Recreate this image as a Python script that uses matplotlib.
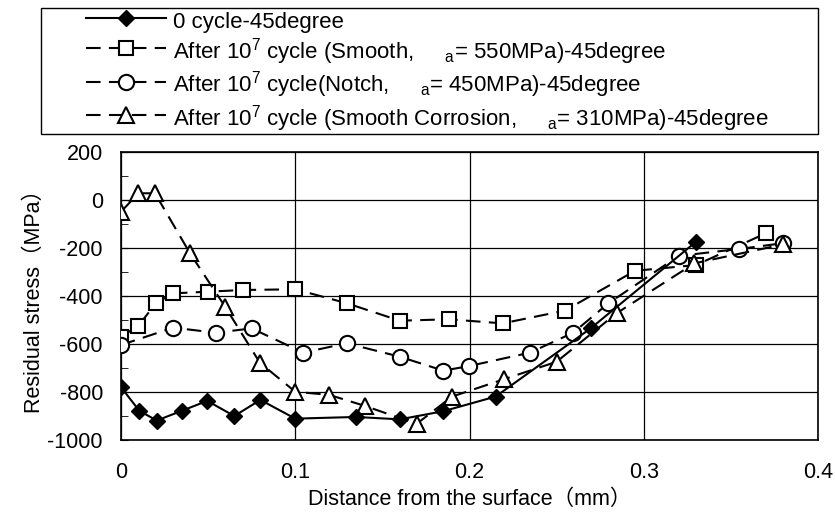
import matplotlib.pyplot as plt
from matplotlib.patches import Rectangle
from matplotlib.ticker import MultipleLocator

plt.rcParams['font.family'] = ['Liberation Sans', 'Noto Sans CJK JP', 'DejaVu Sans']
plt.rcParams['mathtext.fontset'] = 'custom'
plt.rcParams['mathtext.rm'] = 'Liberation Sans'
plt.rcParams['mathtext.it'] = 'Liberation Sans'
plt.rcParams['axes.unicode_minus'] = False

# 0 cycle
x0 = [0, 0.0105, 0.0205, 0.035, 0.0495, 0.065, 0.08, 0.1, 0.135, 0.16, 0.185, 0.215, 0.2695, 0.33]
y0 = [-780, -878, -919, -878, -837, -900, -833, -911, -904, -914, -880, -819, -535, -174]

# smooth
xs = [0, 0.01, 0.02, 0.03, 0.05, 0.07, 0.1, 0.1295, 0.16, 0.188, 0.219, 0.2547, 0.295, 0.33, 0.37]
ys = [-570, -524, -430, -389, -382, -375, -372, -430, -503, -497, -514, -461, -295, -271, -139]

# notch
xc = [0, 0.03, 0.0545, 0.075, 0.1046, 0.1295, 0.16, 0.185, 0.1997, 0.2347, 0.2595, 0.2796, 0.32, 0.3548, 0.38]
yc = [-604, -532, -553, -535, -636, -597, -653, -711, -692, -636, -553, -431, -233, -204, -180]

# smooth corrosion
xt = [0, 0.01, 0.0195, 0.0396, 0.0597, 0.0797, 0.1, 0.1195, 0.14, 0.1696, 0.19, 0.2197, 0.25, 0.2844, 0.329, 0.38]
yt = [-49, 28, 28, -222, -444, -678, -799, -812, -858, -933, -819, -747, -674, -472, -264, -185]

labels = [
    "0 cycle-45degree",
    r"After 10$^7$ cycle (Smooth,     $_{a}$= 550MPa)-45degree",
    r"After 10$^7$ cycle(Notch,     $_{a}$= 450MPa)-45degree",
    r"After 10$^7$ cycle (Smooth Corrosion,     $_{a}$= 310MPa)-45degree",
]

W, H = 835, 519
fig = plt.figure(figsize=(8.35, 5.19), dpi=100)
ax = fig.add_axes([121 / W, 1 - 440 / H, (818 - 121) / W, (440 - 152) / H])

dash = (7, 4)
ax.plot(x0, y0, color='black', lw=1.5, marker='D', markersize=8,
        markerfacecolor='black', label=labels[0], zorder=5)
ax.plot(xs, ys, color='black', lw=1.5, dashes=dash, marker='s', markersize=10,
        markerfacecolor='white', markeredgewidth=1.5, label=labels[1], zorder=4)
ax.plot(xc, yc, color='black', lw=1.5, dashes=dash, marker='o', markersize=11,
        markerfacecolor='white', markeredgewidth=1.5, label=labels[2], zorder=4)
ax.plot(xt, yt, color='black', lw=1.5, dashes=dash, marker='^', markersize=11,
        markerfacecolor='white', markeredgewidth=1.5, label=labels[3], zorder=4)

ax.set_xlim(0, 0.4)
ax.set_ylim(-1000, 200)
ax.yaxis.set_major_locator(MultipleLocator(200))
ax.yaxis.set_minor_locator(MultipleLocator(100))
ax.set_xticks([0, 0.1, 0.2, 0.3, 0.4], ['0', '0.1', '0.2', '0.3', '0.4'])
ax.tick_params(axis='both', which='both', direction='in', labelsize=15.5, color='black')
ax.tick_params(axis='y', which='major', length=5, pad=13)
ax.tick_params(axis='y', which='minor', length=5)
ax.tick_params(axis='x', which='major', length=0, pad=16)
ax.grid(True, which='major', color='black', lw=0.9)
for s in ax.spines.values():
    s.set_linewidth(1.2)

ax.set_xlabel("Distance from the surface（mm）", fontsize=15.5, labelpad=4)
ax.set_ylabel("Residual stress（MPa）", fontsize=15.5, labelpad=2)

# legend box drawn separately so the padding matches the original
fig.patches.append(Rectangle((41 / W, 1 - 134 / H), (818 - 41) / W, 126 / H,
                             transform=fig.transFigure, fill=False,
                             edgecolor='black', lw=1.0))
leg = fig.legend(loc='upper left', bbox_to_anchor=(86 / W, 1 - 8.5 / H), fontsize=16,
                 handlelength=3.6, handleheight=1.3, numpoints=1, frameon=False,
                 borderpad=0, labelspacing=0.12, handletextpad=0.3,
                 borderaxespad=0)

fig.savefig("out.png", dpi=100)
